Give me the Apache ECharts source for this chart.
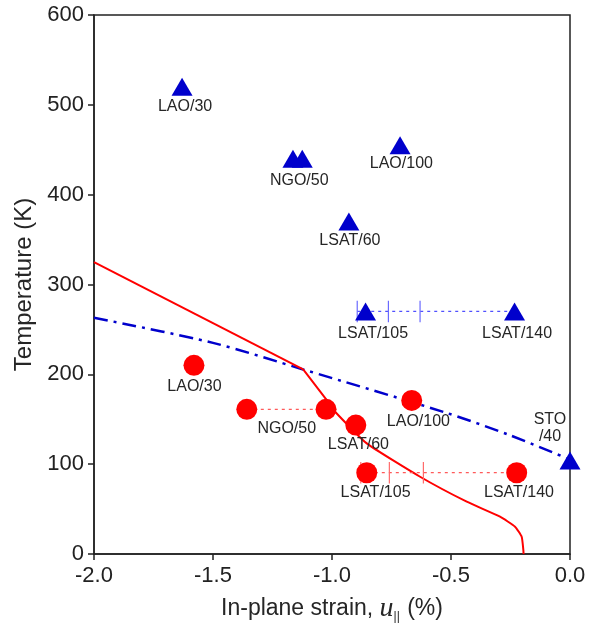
<!DOCTYPE html>
<html>
<head>
<meta charset="utf-8">
<script src="https://cdn.jsdelivr.net/npm/echarts@6/dist/echarts.min.js"></script>
<style>
  html, body { margin: 0; padding: 0; background: #fff; }
  #chart { width: 589px; height: 629px; }
</style>
</head>
<body>
<div id="chart"></div>
<script>
// Axis tick labels
const xTickLabels = ['-2.0', '-1.5', '-1.0', '-0.5', '0.0'];
const yTickLabels = ['0', '100', '200', '300', '400', '500', '600'];

// Upper transition (blue triangles): sample/thickness, strain (%), temperature (K)
const blueNames  = ['LAO/30', 'NGO/50', 'NGO/50', 'LAO/100', 'LSAT/60', 'LSAT/105', 'LSAT/140', 'STO/40'];
const blueStrain = [-1.63, -1.164, -1.125, -0.714, -0.929, -0.859, -0.233, 0.0];
const blueTemp   = [520, 440, 440, 455, 370, 270, 270, 104];

// Lower transition (red circles)
const redNames  = ['LAO/30', 'NGO/50', 'NGO/50', 'LAO/100', 'LSAT/60', 'LSAT/105', 'LSAT/140'];
const redStrain = [-1.58, -1.358, -1.025, -0.665, -0.90, -0.854, -0.224];
const redTemp   = [210, 161, 161, 171, 143.5, 90.5, 90.5];

// Theory curves; the red one has a sharp corner where it meets the blue one
const redUpperStrain  = [-2.0, -1.121];
const redUpperTemp    = [325, 205.4];
const redLowerStrain  = [-1.121, -1.022, -0.987, -0.854, -0.630, -0.434, -0.294, -0.231, -0.203, -0.196, -0.195];
const redLowerTemp    = [205.4, 171.3, 158.3, 123.1, 86.0, 58.2, 41.5, 30.4, 19.2, 4.4, 0];
const blueCurveStrain = [-2.0, -1.5, -1.121, -0.53, -0.25, 0.0];
const blueCurveTemp   = [263, 235, 205.4, 158, 132, 105];

// Strain ranges across the LSAT and NGO films
const blueRangeStrain = [-0.894, -0.233];
const blueRangeTemp   = 270;
const blueRangeTicks  = [-0.894, -0.763, -0.630];
const redRangeStrain  = [-0.879, -0.224];
const redRangeTemp    = 90.5;
const redRangeTicks   = [-0.879, -0.759, -0.616];
const ngoRangeStrain  = [-1.358, -1.025];
const ngoRangeTemp    = 161;
const rangeTickHalf   = 12;

// Label placement (pixel offsets from marker centre); null = no label
const blueLabelOffsets = [[3, 19.6], null, [-3, 21.4], [1.3, 18], [1, 18.7], [7.5, 21.7], [2.5, 21.7], [-20, -32.5]];
const redLabelOffsets  = [[0.5, 21], null, [-39.3, 19.7], [6.7, 21], [2.6, 20], [8.8, 20.3], [2.3, 20.3]];

const FONT = '"Liberation Sans", Arial, Helvetica, sans-serif';
const BLUE = '#0000cc';
const RED = '#ff0000';
const TEXT = '#262626';

function pointsOf(xs, ys) { return xs.map((x, i) => [x, ys[i]]); }

function markerData(names, xs, ys, offsets) {
  return xs.map((x, i) => {
    const off = offsets[i];
    let text = names[i];
    if (text === 'STO/40') text = 'STO\n/40';
    return {
      value: [x, ys[i]],
      label: off ? {
        show: true, formatter: text, position: 'inside', offset: off,
        align: 'center', verticalAlign: 'middle',
        color: TEXT, fontSize: 16, fontFamily: FONT, lineHeight: 17
      } : { show: false }
    };
  });
}

function tickSeries(xs, yc, color) {
  return xs.map(x => ({
    type: 'line', silent: true, symbol: 'none', z: 3,
    data: [[x, yc - rangeTickHalf], [x, yc + rangeTickHalf]],
    lineStyle: { color: color, width: 1.2 }
  }));
}

function rangeSeries(xs, y, color) {
  return {
    type: 'line', silent: true, symbol: 'none', z: 3,
    data: [[xs[0], y], [xs[1], y]],
    lineStyle: { color: color, width: 1.2, type: [3, 4] }
  };
}

const chart = echarts.init(document.getElementById('chart'), null, { renderer: 'canvas' });

chart.setOption({
  animation: false,
  backgroundColor: '#fff',
  grid: {
    left: 94, right: 19, top: 15, bottom: 75,
    show: true, borderColor: '#222', borderWidth: 1.5, backgroundColor: 'transparent'
  },
  xAxis: {
    type: 'value', min: -2, max: 0, interval: 0.5,
    name: '{a|In-plane strain, }{u|u}{s|||}{a| (%)}',
    nameLocation: 'middle', nameGap: 41,
    nameTextStyle: {
      rich: {
        a: { fontSize: 23, fontFamily: FONT, color: TEXT },
        u: { fontSize: 28, fontFamily: '"Liberation Serif", "Times New Roman", serif', fontStyle: 'italic', color: TEXT },
        s: { fontSize: 12, fontFamily: FONT, color: TEXT, padding: [15, 1, 0, 0] }
      }
    },
    axisLine: { show: true, onZero: false, lineStyle: { color: '#222', width: 1.5 } },
    axisTick: { show: true, inside: false, length: 6, lineStyle: { color: '#222', width: 1.5 } },
    axisLabel: {
      margin: 11, fontSize: 22, fontFamily: FONT, color: '#222',
      formatter: v => xTickLabels[Math.round((v + 2) / 0.5)]
    },
    splitLine: { show: false }
  },
  yAxis: {
    type: 'value', min: 0, max: 600, interval: 100,
    name: 'Temperature (K)', nameLocation: 'middle', nameGap: 57, nameRotate: 90,
    nameTextStyle: { fontSize: 24, fontFamily: FONT, color: TEXT },
    axisLine: { show: true, onZero: false, lineStyle: { color: '#222', width: 1.5 } },
    axisTick: { show: true, inside: false, length: 6, lineStyle: { color: '#222', width: 1.5 } },
    axisLabel: {
      margin: 10, fontSize: 22, fontFamily: FONT, color: '#222',
      formatter: v => yTickLabels[Math.round(v / 100)]
    },
    splitLine: { show: false }
  },
  series: [
    {
      type: 'line', silent: true, symbol: 'none', z: 2, smooth: 0.3,
      data: pointsOf(blueCurveStrain, blueCurveTemp),
      lineStyle: { color: BLUE, width: 2.5, type: [14, 6, 3, 6] }
    },
    {
      type: 'line', silent: true, symbol: 'none', z: 2,
      data: pointsOf(redUpperStrain, redUpperTemp),
      lineStyle: { color: RED, width: 2 }
    },
    {
      type: 'line', silent: true, symbol: 'none', z: 2, smooth: 0.15,
      data: pointsOf(redLowerStrain, redLowerTemp),
      lineStyle: { color: RED, width: 2 }
    },
    rangeSeries(blueRangeStrain, blueRangeTemp, '#5050ff'),
    rangeSeries(redRangeStrain, redRangeTemp, '#ff5a5a'),
    rangeSeries(ngoRangeStrain, ngoRangeTemp, '#ff5a5a'),
    ...tickSeries(blueRangeTicks, blueRangeTemp, '#6a6aff'),
    ...tickSeries(redRangeTicks, redRangeTemp, '#ff6a6a'),
    {
      type: 'scatter', z: 5, symbol: 'triangle', symbolSize: [21, 18],
      itemStyle: { color: BLUE, opacity: 1 },
      data: markerData(blueNames, blueStrain, blueTemp, blueLabelOffsets)
    },
    {
      type: 'scatter', z: 5, symbol: 'circle', symbolSize: 21,
      itemStyle: { color: RED, opacity: 1 },
      data: markerData(redNames, redStrain, redTemp, redLabelOffsets)
    }
  ]
});
</script>
</body>
</html>
